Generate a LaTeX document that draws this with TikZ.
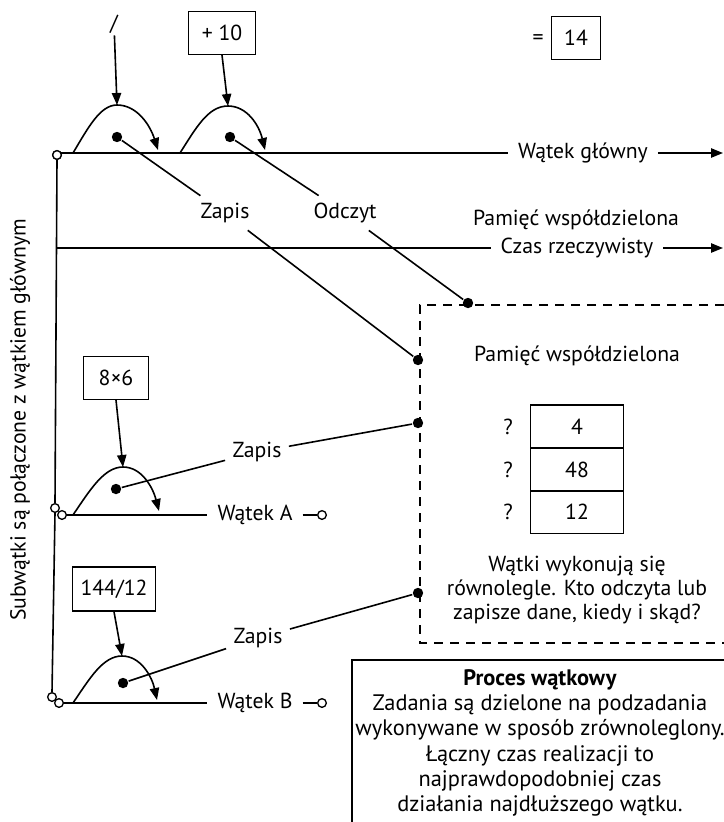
\documentclass[tikz,border=0pt]{standalone}
\usepackage{fontspec}
\setmainfont{PT Sans}
\usetikzlibrary{arrows.meta}
\begin{document}
\begin{tikzpicture}[x=0.75pt,y=-0.75pt, line width=1.2pt,
  txt/.style={font=\fontsize{16.3}{19}\selectfont, inner sep=1pt},
  gap/.style={txt, inner xsep=7pt},
  lab/.style={txt, inner sep=5pt},
  valbox/.style={draw, txt, line width=1.1pt, minimum height=32pt, inner xsep=6pt},
  cell/.style={draw, txt, line width=1.1pt, minimum width=70pt, minimum height=32pt},
  dot/.style={circle, fill, inner sep=0pt, minimum size=7.8pt},
  ocirc/.style={circle, draw, fill=white, inner sep=0pt, minimum size=6.5pt, line width=1pt},
  arr/.style={-{Triangle[length=9pt,width=7pt]}},
  ]
\useasboundingbox (0,0) rectangle (724,822);

% ---------- main thread ----------
\node[gap] (mainlbl) at (583,153) {Wątek główny};
\coordinate (mend) at (723,153);
\coordinate (mstart) at (57,153);
\draw (mstart) -- (mainlbl.west);
\draw[arr] (mainlbl.east) -- (mend);

% ---------- real time line ----------
\node[txt] (pw1) at (576,220) {Pamięć współdzielona};
\node[gap] (czas) at (577,248) {Czas rzeczywisty};
\coordinate (l2s) at (56,248);
\coordinate (l2e) at (723,248);
\draw (l2s) -- (czas.west);
\draw[arr] (czas.east) -- (l2e);

% ---------- sub threads ----------
\coordinate (aL) at (62,515);
\coordinate (bL) at (59,703);
\node[gap] (wa) at (255,515) {Wątek A};
\node[gap] (wb) at (255,703) {Wątek B};
\draw (aL) -- (wa.west);
\draw (bL) -- (wb.west);
\node[ocirc] (aE) at (322,515) {};
\node[ocirc] (bE) at (322,703) {};
\draw (wa.east) -- (aE);
\draw (wb.east) -- (bE);

% vertical connection line
\node[ocirc] (m0) at (57,155) {};
\node[ocirc] (a0) at (55,508) {};
\node[ocirc] (b0) at (52,697) {};
\draw (m0.south) -- (a0.north) (a0.south) -- (b0.north);
\node[ocirc] (a1) at (62,515) {};
\node[ocirc] (b1) at (59,703) {};
\node[ocirc] at (57,155) {};

\node[txt, rotate=90] (sub) at (20,420) {Subwątki są połączone z wątkiem głównym};

% ---------- bumps ----------
\coordinate (pk1) at (117,105);
\coordinate (pk2) at (228,106);
\coordinate (pkA) at (123,467);
\coordinate (pkB) at (122,656);
\draw[arr] (73,153) .. controls (88,128) and (100,105) .. (117,105) .. controls (137,105) and (150,125) .. (158,150);
\draw[arr] (180,153) .. controls (196,128) and (208,106) .. (228,106) .. controls (247,106) and (259,125) .. (265,150);
\draw[arr] (73,515) .. controls (90,490) and (104,467) .. (123,467) .. controls (142,467) and (153,488) .. (159,511);
\draw[arr] (73,703) .. controls (90,678) and (103,656) .. (122,656) .. controls (141,656) and (152,677) .. (157,700);

% ---------- operation inputs ----------
\node[txt] (slash) at (114,24) {/};
\draw[arr] (slash) -- (pk1);
\node[valbox, minimum width=50pt] (plus) at (222,33) {+ 10};
\draw[arr] (plus.south) -- (pk2);
\node[txt] (eq) at (538,40) {=};
\node[valbox, minimum width=37pt] (res) at (576,38) {14};
\node[valbox, minimum width=49pt] (mul) at (116,378) {8×6};
\draw[arr] (mul.south) -- (pkA);
\node[valbox, minimum width=62pt, minimum height=33pt] (div) at (114,589) {144/12};
\draw[arr] (div.south) -- (pkB);

% ---------- dots ----------
\node[dot] (d1) at (117,137) {};
\node[dot] (d2) at (230,137) {};
\node[dot] (dA) at (116,489) {};
\node[dot] (dB) at (123,683) {};

% ---------- labels ----------
\node[lab] (z1) at (225,213) {Zapis};
\node[lab] (od) at (345,213) {Odczyt};
\node[lab] (zA) at (257,452) {Zapis};
\node[lab] (zB) at (258,638) {Zapis};

% ---------- shared memory box ----------
\draw[dashed, dash pattern=on 7pt off 5pt, line width=1.1pt] (724,305) -- (420,305) -- (420,643) -- (724,643);
\node[dot] (mM1) at (418,360) {};
\node[dot] (mM2) at (468,303) {};
\node[dot] (mA) at (418,423) {};
\node[dot] (mB) at (418,593) {};

\draw (d1) -- (z1);
\draw (d2) -- (od);
\draw (z1) -- (mM1);
\draw (od) -- (mM2);
\draw (dA) -- (zA);
\draw (zA) -- (mA);
\draw (dB) -- (zB);
\draw (zB) -- (mB);

\node[txt] (pw2) at (577,356) {Pamięć współdzielona};
\node[cell] (c1) at (577,426.5) {4};
\node[cell] (c2) at (577,469.5) {48};
\node[cell] (c3) at (577,512) {12};
\node[txt] (q1) at (508,426.5) {?};
\node[txt] (q2) at (508,469.5) {?};
\node[txt] (q3) at (508,512) {?};
\node[txt, align=center, font=\fontsize{16.3}{18.2}\selectfont] (note) at (577,590)
  {Wątki wykonują się\\równolegle. Kto odczyta lub\\zapisze dane, kiedy i skąd?};

% ---------- process box ----------
\draw[line width=1.1pt] (724,660) -- (352,660) -- (352,822);
\node[txt, align=center, font=\fontsize{16.8}{18.9}\selectfont] (proc) at (540,743)
  {\textbf{Proces wątkowy}\\Zadania są dzielone na podzadania\\wykonywane w sposób zrównoleglony.\\Łączny czas realizacji to\\najprawdopodobniej czas\\działania najdłuższego wątku.};
\end{tikzpicture}
\end{document}
